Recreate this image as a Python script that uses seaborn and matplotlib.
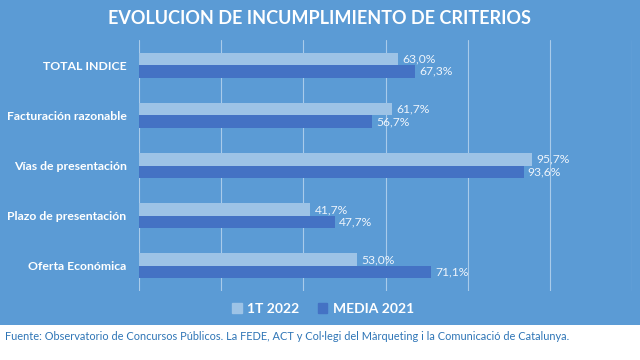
import matplotlib
matplotlib.use("Agg")
import matplotlib.pyplot as plt
import seaborn as sns
import pandas as pd
from matplotlib.patches import Rectangle

categories = ["TOTAL INDICE", "Facturación razonable", "Vías de presentación",
              "Plazo de presentación", "Oferta Económica"]
series_names = ["1T 2022", "MEDIA 2021"]
values_1t2022 = [63.0, 61.7, 95.7, 41.7, 53.0]
values_media2021 = [67.3, 56.7, 93.6, 47.7, 71.1]
title = "EVOLUCION DE INCUMPLIMIENTO DE CRITERIOS"
source = ("Fuente: Observatorio de Concursos Públicos. La FEDE, ACT y Col·legi del "
          "Màrqueting i la Comunicació de Catalunya.")

df = pd.DataFrame({
    "cat": categories * 2,
    "serie": [series_names[0]] * len(categories) + [series_names[1]] * len(categories),
    "val": values_1t2022 + values_media2021,
})

sns.set_theme(style="white")
plt.rcParams["font.family"] = ["Lato", "DejaVu Sans"]

BG = "#5B9BD5"
LIGHT = "#9DC3E6"
DARK = "#4472C4"

fig = plt.figure(figsize=(6.4, 3.6), dpi=100, facecolor=BG)
fig.patches.append(Rectangle((0, 0), 1, 35 / 360, transform=fig.transFigure,
                             facecolor="white", edgecolor="none", zorder=0))
ax = fig.add_axes([139 / 640, 1 - 291 / 360, (632 - 139) / 640, (291 - 40) / 360])
ax.set_facecolor(BG)

sns.barplot(data=df, y="cat", x="val", hue="serie", hue_order=series_names,
            order=categories, palette=[LIGHT, DARK], width=0.5, orient="h",
            errorbar=None, ax=ax, legend=True, saturation=1, linewidth=0)

ax.set_xlim(0, 120)
ax.set_xticks(range(0, 121, 20))
ax.set_xticklabels([])
ax.tick_params(axis="x", length=0)
ax.tick_params(axis="y", length=0, pad=9)
ax.grid(axis="x", color="#A9CBEA", linewidth=0.8)
ax.set_axisbelow(True)
for s in ax.spines.values():
    s.set_visible(False)
ax.set_xlabel("")
ax.set_ylabel("")
for lab in ax.get_yticklabels():
    lab.set_color("white")
    lab.set_fontweight("bold")
    lab.set_fontsize(8.8)

for cont in ax.containers:
    labels = [f"{v:.1f}%".replace(".", ",") for v in cont.datavalues]
    ax.bar_label(cont, labels=labels, padding=3, color="#EEF4FB", fontsize=8.7)

ax.get_legend().remove()
handles = [Rectangle((0, 0), 1, 1, color=LIGHT), Rectangle((0, 0), 1, 1, color=DARK)]
fig.legend(handles, series_names, loc="center", bbox_to_anchor=(323 / 640, 1 - 309 / 360),
           ncol=2, frameon=False, handlelength=0.7, handleheight=0.7, handletextpad=0.4,
           columnspacing=1.3, prop={"weight": "bold", "size": 10}, labelcolor="white")

fig.text(0.5, 1 - 19 / 360, title, ha="center", va="center", color="white",
         fontsize=13, fontweight="bold")
fig.text(5 / 640, 1 - 336 / 360, source, ha="left", va="center", color="#2E75B6",
         fontsize=7.9)

fig.savefig("out.png", dpi=100, facecolor=BG)
